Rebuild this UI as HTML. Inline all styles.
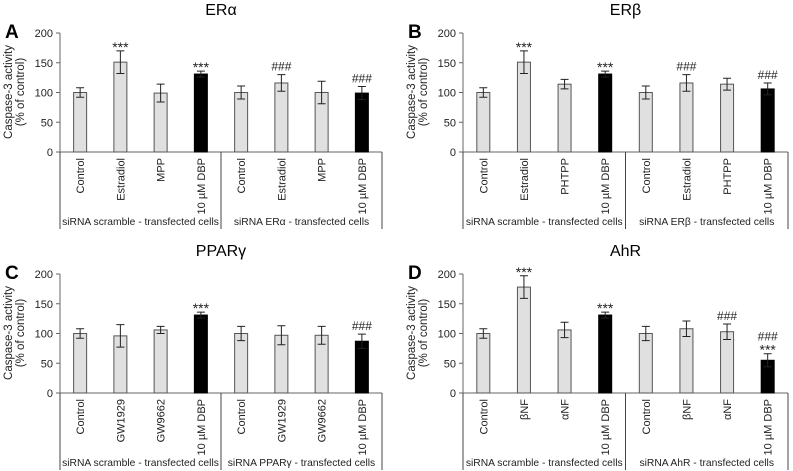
<!DOCTYPE html>
<html><head><meta charset="utf-8">
<style>
html,body{margin:0;padding:0;background:#fff;}
svg{display:block;font-family:"Liberation Sans",Arial,sans-serif;}
</style></head>
<body>
<svg id="fig" width="793" height="471" viewBox="0 0 793 471"></svg>
<script>
const catsA = ["Control","Estradiol","MPP","10 µM DBP","Control","Estradiol","MPP","10 µM DBP"];
const catsB = ["Control","Estradiol","PHTPP","10 µM DBP","Control","Estradiol","PHTPP","10 µM DBP"];
const catsC = ["Control","GW1929","GW9662","10 µM DBP","Control","GW1929","GW9662","10 µM DBP"];
const catsD = ["Control","βNF","αNF","10 µM DBP","Control","βNF","αNF","10 µM DBP"];
const valsA = [100,151,99,131,100,116,100,99];
const errA  = [8,19,15,5,11,14,19,11];
const valsB = [100,151,114,131,100,116,114,106];
const errB  = [8,19,8,5,11,14,10,10];
const valsC = [100,96,106,131,100,97,97,87];
const errC  = [8,19,6,5,12,16,15,12];
const valsD = [100,178,106,131,100,108,103,55];
const errD  = [8,19,13,5,12,13,13,11];
const starsA = ["","***","","***","","","",""];
const hashA  = ["","","","","","###","","###"];
const starsB = ["","***","","***","","","",""];
const hashB  = ["","","","","","###","","###"];
const starsC = ["","","","***","","","",""];
const hashC  = ["","","","","","","","###"];
const starsD = ["","***","","***","","","","***"];
const hashD  = ["","","","","","","###","###"];
const yTicks = [0,50,100,150,200];
const groupLabels = [["siRNA scramble - transfected cells","siRNA ERα - transfected cells"],
  ["siRNA scramble - transfected cells","siRNA ERβ - transfected cells"],
  ["siRNA scramble - transfected cells","siRNA PPARγ - transfected cells"],
  ["siRNA scramble - transfected cells","siRNA AhR - transfected cells"]];

const NS="http://www.w3.org/2000/svg";
const svg=document.getElementById('fig');
function mk(tag,attrs,parent,text){const e=document.createElementNS(NS,tag);for(const k in attrs)e.setAttribute(k,attrs[k]);if(text!==undefined)e.textContent=text;(parent||svg).appendChild(e);return e;}

const panels=[
 {id:"a",letter:"A",title:"ERα",x0:60,x1:382,y0:152,cats:catsA,vals:valsA,err:errA,stars:starsA,hash:hashA,g:groupLabels[0]},
 {id:"b",letter:"B",title:"ERβ",x0:463,x1:788,y0:152,cats:catsB,vals:valsB,err:errB,stars:starsB,hash:hashB,g:groupLabels[1]},
 {id:"c",letter:"C",title:"PPARγ",x0:60,x1:382,y0:393,cats:catsC,vals:valsC,err:errC,stars:starsC,hash:hashC,g:groupLabels[2]},
 {id:"d",letter:"D",title:"AhR",x0:463,x1:788,y0:393,cats:catsD,vals:valsD,err:errD,stars:starsD,hash:hashD,g:groupLabels[3]}
];

panels.forEach(p=>{
  const g=mk('g',{});
  
  
  const H=119;
  const y=v=>p.y0-v/200*H;
  const n=p.cats.length, step=(p.x1-p.x0)/n;
  const cx=i=>p.x0+step*(i+0.5);
  const bw=13;
  const lt=mk('text',{x:p.x0-55,y:p.y0-119,'font-size':19,'font-weight':'bold',fill:'#000','dominant-baseline':'middle'},g,p.letter);
  
  const tt=mk('text',{x:(p.x0+p.x1)/2,y:p.y0-137,'font-size':16,'text-anchor':'middle',fill:'#000'},g,p.title);
  
  const ya=mk('line',{x1:p.x0,y1:y(200),x2:p.x0,y2:p.y0,stroke:'#666','stroke-width':1},g);
  
  yTicks.forEach(t=>{
    mk('line',{x1:p.x0-4,y1:y(t),x2:p.x0,y2:y(t),stroke:'#666'},g);
    const tl=mk('text',{x:p.x0-7,y:y(t)+4,'font-size':11,'text-anchor':'end',fill:'#222'},g,t);
    
  });
  const yt=mk('text',{transform:`translate(${p.x0-48},${p.y0-60}) rotate(-90)`,'font-size':11.5,'text-anchor':'middle',fill:'#222'},g);
  
  mk('tspan',{x:0,dy:0},yt,'Caspase-3 activity');
  mk('tspan',{x:0,dy:12},yt,'(% of control)');
  const mid=p.x0+step*4;
  const xa=mk('line',{x1:p.x0,y1:p.y0,x2:p.x1,y2:p.y0,stroke:'#666'},g);
  
  [p.x0,mid,p.x1].forEach(xx=>mk('line',{x1:xx,y1:p.y0,x2:xx,y2:p.y0+77,stroke:'#444'},g));
  p.g.forEach((lab,k)=>{
    const gl=mk('text',{x:k===0?(p.x0+mid)/2:(mid+p.x1)/2,y:p.y0+73,'font-size':10.3,'text-anchor':'middle',fill:'#222'},g,lab);
    
  });
  p.vals.forEach((v,i)=>{
    const r=mk('rect',{x:cx(i)-bw/2,y:y(v),width:bw,height:p.y0-y(v),fill:i%4===3?'#000':'#e0e0e0',stroke:i%4===3?'#000':'#555','stroke-width':1},g);
    
    
    const e=p.err[i];
    const eb=mk('path',{d:`M${cx(i)},${y(v+e)}V${y(v-e)}M${cx(i)-4},${y(v+e)}H${cx(i)+4}M${cx(i)-4},${y(v-e)}H${cx(i)+4}`,stroke:'#222',fill:'none'},g);
    
    const cl=mk('text',{transform:`translate(${cx(i)+4},${p.y0+6}) rotate(-90)`,'font-size':11,'text-anchor':'end',fill:'#222'},g,p.cats[i]);
    
    let top=y(v+e)-4;
    if(p.stars[i]){const s=mk('text',{x:cx(i),y:top+5,'font-size':14,'text-anchor':'middle',fill:'#222'},g,p.stars[i]);top-=9;}
    if(p.hash[i]){const s=mk('text',{x:cx(i),y:top,'font-size':12,'text-anchor':'middle',fill:'#222'},g,p.hash[i]);}
  });
});
</script>
</body></html>
